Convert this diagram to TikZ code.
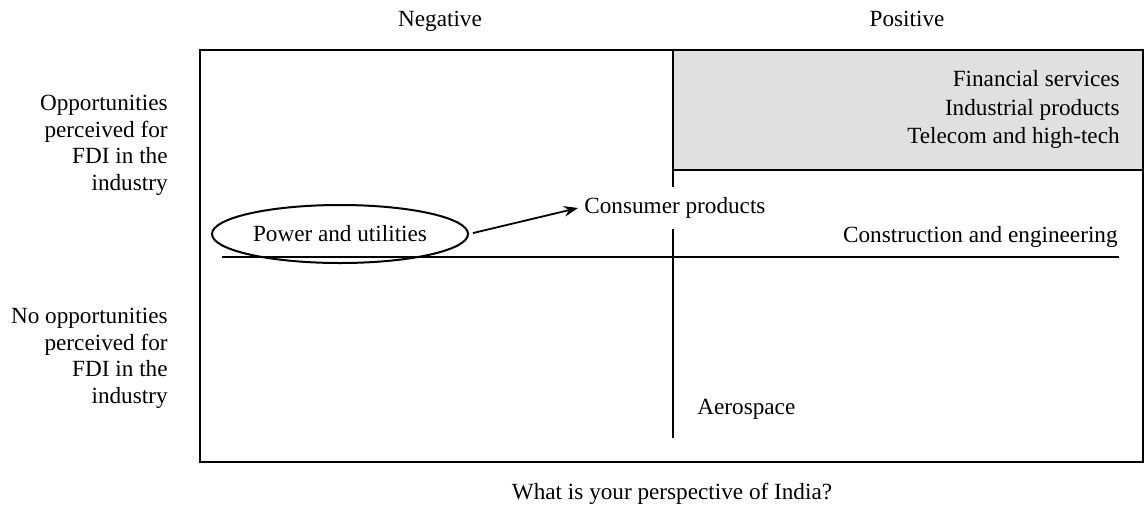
\documentclass[tikz,border=0pt]{standalone}
\usepackage{fontspec}
\setmainfont{Liberation Serif}
\usepackage{xcolor}
\usetikzlibrary{arrows.meta,positioning,shapes.geometric}

\definecolor{quadgray}{RGB}{224,224,224}

\begin{document}
\begin{tikzpicture}[
  x=0.5pt, y=-0.5pt, >=Stealth,
  every node/.style={font=\fontsize{11.6}{13.2}\selectfont, inner sep=2pt},
  frame/.style={draw=black, line width=1pt},
  axis/.style={draw=black, line width=1pt},
  sector/.style={anchor=base east, inner sep=0pt},
  head/.style={anchor=base},
  side/.style={align=right, anchor=base east, inner sep=0pt},
  arrow/.style={->, line width=0.9pt, black}
]
\useasboundingbox (0,0) rectangle (1144,509);

% quadrant frame, shaded corner and axes
\fill[quadgray] (673,50) rectangle (1143,170);
\draw[frame] (200,50) rectangle (1143,462);
\draw[axis] (673,170) -- (1143,170);
\draw[axis] (673,50) -- (673,438);
\draw[axis] (222,257) -- (1119,257);

% column and row headings
\node[head] (neg) at (440,26) {Negative};
\node[head] (pos) at (907,26) {Positive};
\node[side] (opp) at (168,190) {Opportunities\\perceived for\\FDI in the\\industry};
\node[side] (noopp) at (168,403) {No opportunities\\perceived for\\FDI in the\\industry};
\node[head] (question) at (672,499) {What is your perspective of India?};

% industries
\node[sector] (fin) at (1120,86) {Financial services};
\node[sector] (ind) at (1120,115) {Industrial products};
\node[sector] (tel) at (1120,143) {Telecom and high-tech};
\node[fill=white, anchor=west, inner sep=3pt, minimum height=21pt] (consumer) at (578,208) {Consumer products};
\node[sector] (constr) at (1118,242) {Construction and engineering};
\node[anchor=base west, inner sep=0pt] (aero) at (697,414) {Aerospace};
\node[draw, ellipse, line width=1pt, minimum width=128pt, minimum height=29pt, inner sep=0pt] (power) at (340,234) {Power and utilities};

\draw[arrow, shorten <=2pt] (power.east) -- (consumer.west);

\end{tikzpicture}
\end{document}
